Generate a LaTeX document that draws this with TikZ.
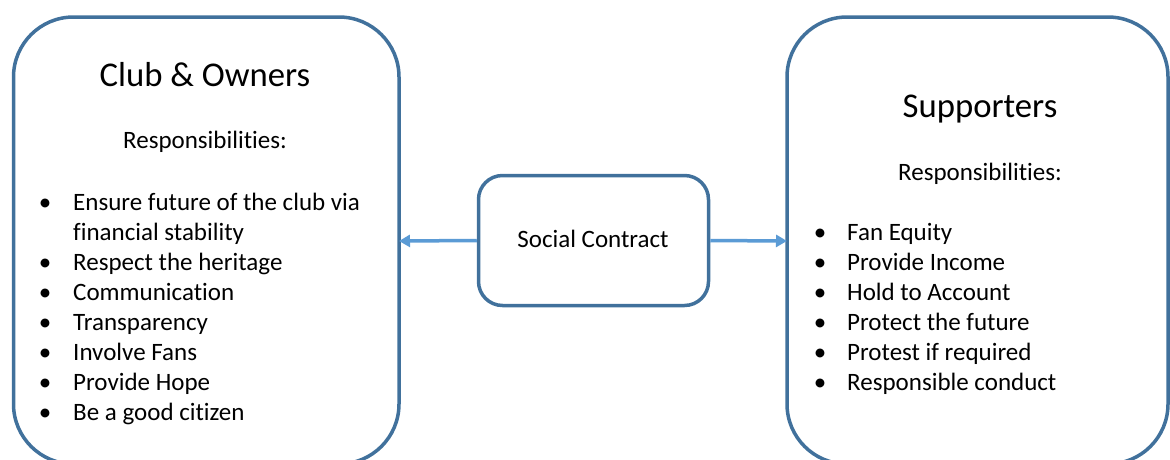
\documentclass[tikz,border=0pt]{standalone}
\usepackage{fontspec}
\setmainfont{Carlito}[Ligatures=NoCommon]
\usetikzlibrary{arrows.meta}
\definecolor{boxline}{HTML}{41719C}
\definecolor{arrowblue}{HTML}{5B9BD5}
\begin{document}
\begin{tikzpicture}[x=1pt,y=-1pt,
  panel/.style={draw=boxline, line width=3.5pt, rounded corners=60pt},
  midbox/.style={draw=boxline, line width=3.5pt, rounded corners=24pt},
  link/.style={draw=arrowblue, line width=3.5pt, -{Triangle[length=11pt,width=12pt]}},
  title/.style={inner sep=0pt, anchor=base, font=\fontsize{34.7}{42}\selectfont},
  body/.style={inner sep=0pt, anchor=base, font=\fontsize{25}{30}\selectfont},
  item/.style={inner sep=0pt, anchor=base west, font=\fontsize{25}{30}\selectfont},
  dot/.style={inner sep=0pt, anchor=base, font=\fontsize{25}{30}\selectfont},
]
\useasboundingbox (0,0) rectangle (1170,459);
\begin{scope}
\clip (0,0) rectangle (1170,459);
% outer panels, running past the lower edge
\draw[panel] (13.5,17) rectangle (399,464);
\draw[panel] (787,17) rectangle (1168,464);
\end{scope}

% coordinates on the panel sides where the connectors end
\coordinate (leftside) at (399,241);
\coordinate (rightside) at (787,241);

% central box
\node[midbox, minimum width=230pt, minimum height=130pt, inner sep=0pt] (contract) at (593.5,240.5) {};
\node[body] (contractlabel) at (593,247) {Social Contract};

% connectors
\draw[link] (contract.west) -- (leftside);
\draw[link] (contract.east) -- (rightside);

% left panel text
\node[title] (clubtitle) at (205,86) {Club \& Owners};
\node[body] (clubresp) at (205,148) {Responsibilities:};
\foreach \txt [count=\i] in {Ensure future of the club via, financial stability,
    Respect the heritage, Communication, Transparency, Involve Fans,
    Provide Hope, Be a good citizen}
  \node[item] (clubitem\i) at (73,180+30*\i) {\txt};
\foreach \i in {1,3,4,5,6,7,8}
  \node[dot] (clubdot\i) at (45,180+30*\i) {•};

% right panel text
\node[title] (suptitle) at (980,117) {Supporters};
\node[body] (supresp) at (980,180) {Responsibilities:};
\foreach \txt [count=\i] in {Fan Equity, Provide Income, Hold to Account,
    Protect the future, Protest if required, Responsible conduct} {
  \node[item] (supitem\i) at (847,210+30*\i) {\txt};
  \node[dot] (supdot\i) at (820,210+30*\i) {•};
}
\end{tikzpicture}
\end{document}
